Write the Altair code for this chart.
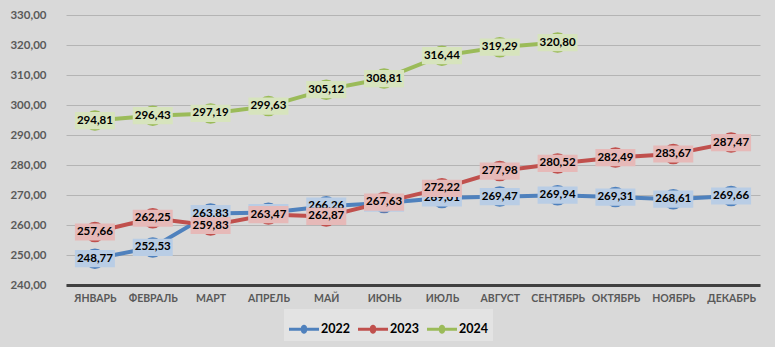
import altair as alt
import pandas as pd

months = ["ЯНВАРЬ", "ФЕВРАЛЬ", "МАРТ", "АПРЕЛЬ", "МАЙ", "ИЮНЬ", "ИЮЛЬ",
          "АВГУСТ", "СЕНТЯБРЬ", "ОКТЯБРЬ", "НОЯБРЬ", "ДЕКАБРЬ"]
v2022 = [248.77, 252.53, 263.83, 264.10, 266.26, 267.30, 269.01, 269.47, 269.94, 269.31, 268.61, 269.66]
v2023 = [257.66, 262.25, 259.83, 263.47, 262.87, 267.63, 272.22, 277.98, 280.52, 282.49, 283.67, 287.47]
v2024 = [294.81, 296.43, 297.19, 299.63, 305.12, 308.81, 316.44, 319.29, 320.80]
years = ["2022", "2023", "2024"]
line_colors = ["#4f81bd", "#c0504d", "#9bbb59"]
label_fills = ["#b9cde5", "#e6b9b8", "#d7e4bd"]
y_ticks = [240, 250, 260, 270, 280, 290, 300, 310, 320, 330]

rows = []
for year, vals, lf in zip(years, [v2022, v2023, v2024], label_fills):
    for m, v in zip(months, vals):
        rows.append({"month": m, "year": year, "value": v, "lfill": lf})
df = pd.DataFrame(rows)

FONT = "Lato"

x_enc = alt.X("month:N", sort=months, title=None,
              scale=alt.Scale(type="point", padding=0.5),
              axis=alt.Axis(labelFont=FONT, labelFontWeight="bold", labelFontSize=10.5,
                            labelColor="#595959", labelPadding=8, ticks=False,
                            domainColor="#404040", domainWidth=3, grid=False,
                            labelAngle=0))
y_enc = alt.Y("value:Q", title=None,
              scale=alt.Scale(domain=[240, 330], nice=False, zero=False),
              axis=alt.Axis(values=y_ticks, labelExpr="replace(format(datum.value, '.2f'), '.', ',')",
                            labelFont=FONT, labelFontWeight="bold", labelFontSize=11.5,
                            labelColor="#595959", labelPadding=20, ticks=False,
                            domain=False, gridColor="#b4b4b4", gridWidth=1))

legend_shape = ("M-1,-0.1H-0.2A0.2,0.2 0 0,1 0.2,-0.1H1V0.1H0.2"
                "A0.2,0.2 0 0,1 -0.2,0.1H-1Z")

color_enc = alt.Color("year:N", scale=alt.Scale(domain=years, range=line_colors),
                      legend=alt.Legend(title=None, orient="none", direction="horizontal",
                                        legendX=218, legendY=294,
                                        symbolType=legend_shape, symbolSize=900,
                                        symbolStrokeWidth=0, symbolOpacity=1,
                                        labelFont=FONT, labelFontWeight="bold",
                                        labelFontSize=12.5, labelColor="#000000",
                                        labelOffset=2, columnPadding=8,
                                        fillColor="#e3e3e3", padding=5))

base = alt.Chart(df).encode(x=x_enc, y=y_enc)

lines = base.mark_line(strokeWidth=4).encode(color=color_enc, detail="year:N")

markers = base.mark_point(filled=True, size=420, opacity=1).encode(color=color_enc)

box_shape = "M-1,-0.43H1V0.43H-1Z"

layers = [lines, markers]
for year in years:
    sub = base.transform_filter(alt.datum.year == year)
    box = sub.mark_point(shape=box_shape, size=1600, filled=True, opacity=1,
                         strokeWidth=0).encode(fill=alt.Fill("lfill:N", scale=None))
    txt = sub.mark_text(font=FONT, fontWeight="bold", fontSize=11.5, color="#000000"
                        ).transform_calculate(
        lbl="replace(format(datum.value, '.2f'), '.', ',')"
    ).encode(text="lbl:N")
    layers += [box, txt]

chart = alt.layer(*layers).properties(
    width=694, height=270,
    autosize=alt.AutoSizeParams(type="none"),
    padding={"left": 66, "top": 15, "right": 15, "bottom": 62},
    background="#d9d9d9",
).configure_view(stroke=None)

chart.save("out.html", embed_options={"renderer": "svg", "actions": False})
